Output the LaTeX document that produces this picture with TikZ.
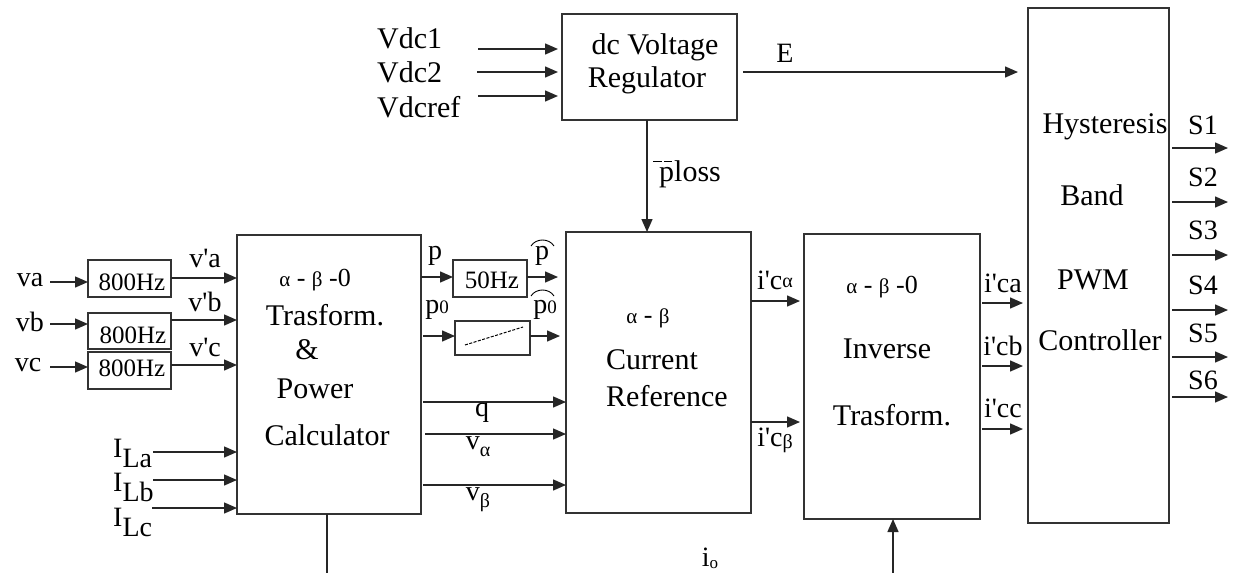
\documentclass[tikz,border=0pt]{standalone}
\usepackage{fontspec}
\setmainfont{Liberation Serif}[Ligatures=TeXOff]
\usetikzlibrary{arrows.meta}
\begin{document}
\begin{tikzpicture}[x=1pt,y=-1pt,
 box/.style={draw=black!80, line width=1.6pt, inner sep=0pt, outer sep=0pt},
 arr/.style={line width=1.4pt, draw=black!85, -{Triangle[length=13pt,width=11pt]}},
 ln/.style={line width=1.4pt, draw=black!85},
 t/.style={inner sep=0pt, font=\fontsize{28}{30}\selectfont},
 tb/.style={inner sep=0pt, font=\fontsize{30}{32}\selectfont},
 ts/.style={inner sep=0pt, font=\fontsize{25}{27}\selectfont},
 tg/.style={inner sep=0pt, font=\fontsize{26}{28}\selectfont},
 hatarc/.style={line width=0.9pt},
]
\useasboundingbox (0,0) rectangle (1235,573);

% ---------- boxes ----------
\node[box, minimum width=83pt, minimum height=37pt] (f1) at (129.5,278.5) {};
\node[box, minimum width=83pt, minimum height=36pt] (f2) at (129.5,331) {};
\node[box, minimum width=83pt, minimum height=37pt] (f3) at (129.5,370.5) {};
\node[box, minimum width=184pt, minimum height=279pt] (tr) at (329,374.5) {};
\node[box, minimum width=74pt, minimum height=37pt] (lp) at (490,278.5) {};
\node[box, minimum width=75pt, minimum height=34pt] (rp) at (492.5,338) {};
\node[box, minimum width=185pt, minimum height=281pt] (cr) at (658.5,372.5) {};
\node[box, minimum width=176pt, minimum height=285pt] (inv) at (892,376.5) {};
\node[box, minimum width=141pt, minimum height=515pt] (hb) at (1098.5,265.5) {};
\node[box, minimum width=175pt, minimum height=106pt] (dc) at (649.5,67) {};

% ---------- box texts ----------
\node[ts] (f1t) at (132,282) {800Hz};
\node[ts] (f2t) at (133,335) {800Hz};
\node[ts] (f3t) at (132,368) {800Hz};
\node[ts] (lpt) at (492,280) {50Hz};
\draw[line width=1pt, dash pattern=on 3pt off 1.5pt] (465,345) -- (523,327);

\node[tg] (tr1) at (315,280) {{\fontsize{21}{22}\selectfont α} - {\fontsize{21}{22}\selectfont β} -0};
\node[tb] (tr2) at (325,315) {Trasform.};
\node[tb] (tr3) at (307,350) {\&};
\node[tb] (tr4) at (315,389) {Power};
\node[tb] (tr5) at (327,435) {Calculator};

\node[tb] (dc1) at (655,47) {dc Voltage};
\node[tb] (dc2) at (647,80) {Regulator};

\node[tg] (cr1) at (648,318) {{\fontsize{21}{22}\selectfont α} - {\fontsize{21}{22}\selectfont β}};
\node[tb, anchor=west] (cr2) at (606,360) {Current};
\node[tb, anchor=west] (cr3) at (606,396) {Reference};

\node[tg] (inv1) at (882,287) {{\fontsize{21}{22}\selectfont α} - {\fontsize{21}{22}\selectfont β} -0};
\node[tb] (inv2) at (887,349) {Inverse};
\node[tb] (inv3) at (892,415) {Trasform.};

\node[tb] (hb1) at (1105,127) {Hysteresis};
\node[tb] (hb2) at (1092,195) {Band};
\node[tb] (hb3) at (1093,280) {PWM};
\node[tb] (hb4) at (1100,340) {Controller};

% ---------- input labels ----------
\node[t] (va) at (30,280) {va};
\node[t] (vb) at (30,322) {vb};
\node[t] (vc) at (28,365) {vc};
\node[t] (vpa) at (205,258) {v'a};
\node[t] (vpb) at (205,302) {v'b};
\node[t] (vpc) at (205,347) {v'c};
\node[t, anchor=base west] (ila) at (113,457) {I\raisebox{-10pt}{La}};
\node[t, anchor=base west] (ilb) at (113,491) {I\raisebox{-10pt}{Lb}};
\node[t, anchor=base west] (ilc) at (113,526) {I\raisebox{-10pt}{Lc}};

\node[tb, anchor=base west] (vdc1) at (377,48) {Vdc1};
\node[tb, anchor=base west] (vdc2) at (377,82) {Vdc2};
\node[tb, anchor=base west] (vdcr) at (377,117) {Vdcref};

% ---------- inputs ----------
\draw[arr] (50,282) -- (f1.west |- 0,282);
\draw[arr] (50,324) -- (f2.west |- 0,324);
\draw[arr] (50,367) -- (f3.west |- 0,367);
\draw[arr] (f1.east |- 0,278) -- (tr.west |- 0,278);
\draw[arr] (f2.east |- 0,320) -- (tr.west |- 0,320);
\draw[arr] (f3.east |- 0,365) -- (tr.west |- 0,365);
\draw[arr] (153,452) -- (tr.west |- 0,452);
\draw[arr] (153,480) -- (tr.west |- 0,480);
\draw[arr] (152,508) -- (tr.west |- 0,508);

\draw[arr] (478,49) -- (558,49);
\draw[arr] (477,72) -- (558,72);
\draw[arr] (478,96) -- (558,96);

% ---------- transform outputs ----------
\draw[arr] (tr.east |- 0,277) -- (lp.west |- 0,277);
\draw[arr] (lp.east |- 0,277) -- (558,277);
\node[t] (pl) at (435,256) {p};
\node[t] (phl) at (542,256) {p};
\draw[hatarc] (531,246) .. controls (536,238) and (549,238) .. (554,246);

\draw[arr] (423,336) -- (rp.west |- 0,336);
\draw[arr] (rp.east |- 0,336) -- (560,336);
\node[t] (p0l) at (437,310) {p{\fontsize{19}{20}\selectfont 0}};
\node[t] (p0hl) at (545,310) {p{\fontsize{19}{20}\selectfont 0}};
\draw[hatarc] (531,296) .. controls (536,288) and (549,288) .. (554,296);

\draw[arr] (423,402) -- (cr.west |- 0,402);
\node[t] (ql) at (482,413) {q};
\draw[arr] (425,434) -- (cr.west |- 0,434);
\node[t] (val) at (478,447) {v\raisebox{-7pt}{\fontsize{20}{22}\selectfont α}};
\draw[arr] (423,485) -- (cr.west |- 0,485);
\node[t] (vbl) at (478,500) {v\raisebox{-7pt}{\fontsize{20}{22}\selectfont β}};

\draw[ln] (tr.south -| 327,0) -- (327,573);

% ---------- dc regulator outputs ----------
\draw[arr] (dc.south -| 647,0) -- (cr.north -| 647,0);
\node[tb] (ploss) at (690,174) {ploss};
\draw[line width=1pt] (653,161) -- (662,161) (664,161) -- (672,161);
\draw[arr] (743,72) -- (1018,72);
\node[t] (el) at (785,53) {E};

% ---------- current reference outputs ----------
\draw[arr] (cr.east |- 0,301) -- (800,301);
\node[t] (icap) at (775,280) {i'c\raisebox{2pt}{\fontsize{20}{22}\selectfont α}};
\draw[arr] (cr.east |- 0,422) -- (800,422);
\node[t] (icbp) at (775,440) {i'c\raisebox{-2pt}{\fontsize{20}{22}\selectfont β}};

\node[t] (io) at (710,558) {i\raisebox{-2pt}{\fontsize{17}{18}\selectfont o}};
\draw[arr] (893,573) -- (inv.south -| 893,0);

% ---------- inverse outputs ----------
\draw[arr] (982,303) -- (1023,303);
\draw[arr] (982,366) -- (1023,366);
\draw[arr] (982,429) -- (1023,429);
\node[t] (ica) at (1003,283) {i'ca};
\node[t] (icb) at (1003,346) {i'cb};
\node[t] (icc) at (1003,408) {i'cc};

% ---------- switching outputs ----------
\foreach \yy/\ly/\s in {148/125/1, 202/177/2, 255/230/3, 310/285/4, 357/333/5, 397/380/6}{
  \draw[arr] (1172,\yy) -- (1228,\yy);
  \node[t] (s\s) at (1203,\ly) {S\s};
}
\end{tikzpicture}
\end{document}
